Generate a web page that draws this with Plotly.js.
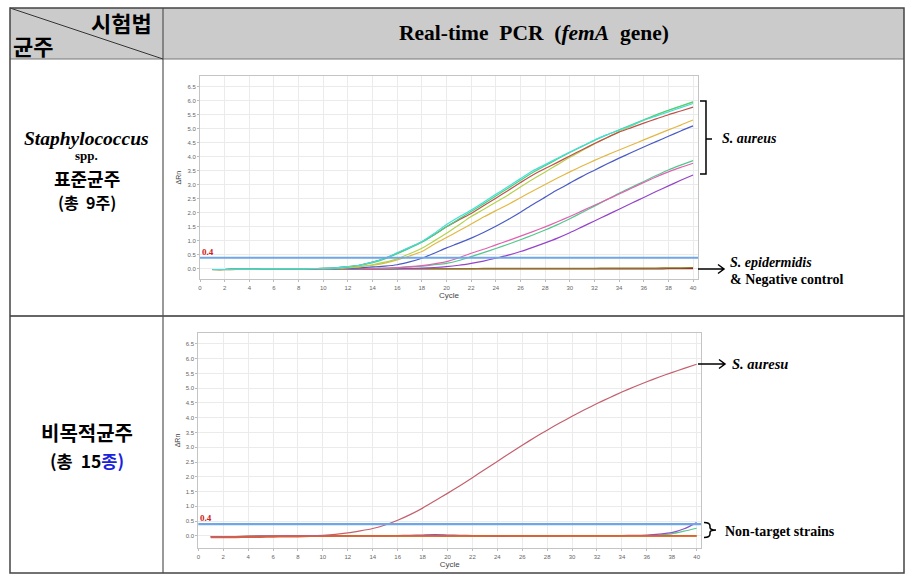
<!DOCTYPE html>
<html><head><meta charset="utf-8">
<script src="https://cdn.plot.ly/plotly-3.0.1.min.js"></script>
<style>html,body{margin:0;padding:0;background:#fff}#c{width:913px;height:587px}</style>
</head><body><div id="c"></div>
<script>
// ---------- DATA ----------
const cycles = [1,2,3,4,5,6,7,8,9,10,11,12,13,14,15,16,17,18,19,20,21,22,23,24,25,26,27,28,29,30,31,32,33,34,35,36,37,38,39,40];
const xTicks = [0,2,4,6,8,10,12,14,16,18,20,22,24,26,28,30,32,34,36,38,40];
const threshold = 0.4;

// Panel 1: Staphylococcus spp. reference strains
const saCyan   = [-0.02,-0.02,-0.01,-0.01,0,0,0,0,0.01,0.02,0.04,0.08,0.14,0.24,0.38,0.58,0.77,0.98,1.27,1.58,1.85,2.10,2.38,2.66,2.94,3.22,3.50,3.72,3.95,4.17,4.38,4.60,4.78,4.95,5.12,5.30,5.45,5.60,5.75,5.90];
const saGreen  = [-0.02,-0.02,-0.01,-0.01,0,0,0,0,0.01,0.02,0.03,0.07,0.13,0.22,0.36,0.54,0.74,0.95,1.22,1.50,1.78,2.05,2.32,2.60,2.88,3.16,3.44,3.68,3.92,4.15,4.37,4.58,4.78,4.96,5.14,5.32,5.50,5.66,5.81,5.96];
const saRed    = [-0.02,-0.02,-0.01,-0.01,0,0,0,0,0.01,0.02,0.04,0.08,0.14,0.24,0.38,0.56,0.76,0.97,1.22,1.50,1.75,1.98,2.25,2.52,2.80,3.08,3.35,3.58,3.80,4.03,4.25,4.47,4.68,4.88,5.04,5.20,5.35,5.50,5.63,5.77];
const saLime   = [-0.02,-0.02,-0.01,-0.01,0,0,0,0,0.01,0.01,0.02,0.05,0.09,0.15,0.24,0.36,0.54,0.74,1.00,1.27,1.57,1.87,2.12,2.38,2.64,2.92,3.20,3.46,3.72,3.98,4.22,4.46,4.68,4.90,5.10,5.30,5.48,5.65,5.80,5.95];
const saYellow = [-0.02,-0.02,-0.01,-0.01,0,0,0,0,0.01,0.01,0.02,0.04,0.08,0.13,0.21,0.32,0.46,0.62,0.88,1.12,1.36,1.60,1.85,2.08,2.30,2.54,2.78,3.01,3.24,3.46,3.67,3.87,4.06,4.24,4.42,4.60,4.78,4.96,5.13,5.31];
const saBlue   = [-0.02,-0.02,-0.01,-0.01,0,0,0,0,0,0.01,0.01,0.02,0.04,0.07,0.10,0.15,0.25,0.38,0.56,0.75,0.92,1.10,1.30,1.52,1.76,2.02,2.30,2.56,2.82,3.06,3.30,3.52,3.74,3.95,4.15,4.35,4.54,4.73,4.92,5.10];
const saPink   = [-0.02,-0.02,-0.01,-0.01,0,0,0,0,0,0,0.01,0.01,0.02,0.02,0.03,0.05,0.08,0.12,0.18,0.26,0.40,0.56,0.70,0.86,1.01,1.17,1.33,1.50,1.68,1.87,2.07,2.27,2.47,2.67,2.88,3.08,3.28,3.46,3.62,3.77];
const saTeal   = [-0.02,-0.02,-0.01,-0.01,0,0,0,0,0,0,0,0.01,0.01,0.02,0.02,0.04,0.07,0.10,0.15,0.20,0.30,0.44,0.58,0.73,0.88,1.04,1.21,1.39,1.58,1.79,2.01,2.24,2.47,2.70,2.91,3.12,3.33,3.53,3.70,3.86];
const saPurple = [-0.02,-0.02,-0.01,-0.01,0,0,0,0,0,0,0,0,0.01,0.01,0.01,0.01,0.02,0.03,0.05,0.08,0.13,0.20,0.28,0.38,0.49,0.62,0.77,0.93,1.10,1.29,1.50,1.71,1.92,2.13,2.34,2.55,2.76,2.96,3.16,3.35];
const epiOlive = [-0.03,-0.03,-0.02,-0.02,-0.01,-0.01,0,0,0,0,0,0,0,0,0,0.01,0.01,0.01,0.01,0.01,0.01,0.01,0.02,0.02,0.02,0.02,0.02,0.02,0.02,0.02,0.02,0.02,0.03,0.03,0.03,0.03,0.03,0.04,0.04,0.05];
const negCtrl  = [-0.02,-0.02,-0.02,-0.01,-0.01,-0.01,0,0,0,0,0,0,0,0,0,0,0,0,0,0,0,0,0,0,0,0,0,0,0,0,0,0,0,0,0,0,0,0.01,0.01,0.01];

// Panel 2: non-target strains
const ntAureus = [-0.03,-0.03,-0.02,-0.02,-0.01,0,0,0,0.01,0.02,0.05,0.10,0.17,0.25,0.37,0.53,0.72,0.94,1.19,1.44,1.70,1.97,2.25,2.52,2.80,3.07,3.33,3.58,3.82,4.05,4.27,4.48,4.68,4.87,5.05,5.22,5.38,5.53,5.67,5.81];
const ntOrange = [-0.05,-0.05,-0.05,-0.04,-0.04,-0.03,-0.02,-0.02,-0.01,-0.01,0,0,0,0,0,0,0,0,0,0,0,0,0,0,0,0,0,0,0,0,0,0,0,0,0,0,0,0,0,0];
const ntYellow = [-0.03,-0.03,-0.02,-0.02,-0.01,-0.01,0,0,0.01,0.01,0.01,0.01,0.01,0.01,0.01,0,0,0,0,0,0,0,0,0,0,0,0,0,0,0,0,0,0,0,0,0,0,0,0.01,0.01];
const ntPurple = [-0.03,-0.03,-0.02,-0.02,-0.01,-0.01,0,0,0,0,0,0,0,0,0,0.01,0.02,0.03,0.04,0.03,0.02,0.01,0,-0.01,0,0,0,0,0,0.01,0.01,0.01,0.01,0.01,0.02,0.03,0.06,0.11,0.24,0.45];
const ntGreen  = [-0.03,-0.03,-0.02,-0.02,-0.01,-0.01,0,0,0,0,0,0,0,0,0,0,0,0.01,0.01,0.01,0,0,0,0,0,0,0,0,0,0,0,0,0,0,0.01,0.01,0.03,0.07,0.16,0.26];
const ntBrown  = [-0.02,-0.02,-0.02,-0.01,-0.01,-0.01,0,0,0,0,0,0,0,0,0,0,0,0,0,-0.01,-0.01,-0.01,0,0,0,0,0,0,0,0,0,0,0,0,0,0,0,0,0,0];

// ---------- HELPERS ----------
const W = 913, H = 587;
const px = x => x / W;
const py = y => 1 - y / H;

function tr(y, color, ax, width) {
  return {x: cycles, y: y, type: 'scatter', mode: 'lines', xaxis: ax[0], yaxis: ax[1],
          line: {color: color, width: width || 1.2, shape: 'spline', smoothing: 0.6}, hoverinfo: 'skip', showlegend: false};
}
const A1 = ['x', 'y'], A2 = ['x2', 'y2'];

const traces = [
  tr(negCtrl, '#8b2a2a', A1), tr(epiOlive, '#8a7a1e', A1),
  tr(saPurple, '#9444c8', A1), tr(saTeal, '#52c88e', A1), tr(saPink, '#e062b0', A1),
  tr(saBlue, '#4a5cc4', A1), tr(saYellow, '#e2b845', A1), tr(saLime, '#b4d24e', A1),
  tr(saRed, '#c0504a', A1), tr(saGreen, '#4cd07a', A1), tr(saCyan, '#44dede', A1),
  tr(ntBrown, '#8b3a2a', A2), tr(ntYellow, '#d8c232', A2), tr(ntGreen, '#5cc88a', A2),
  tr(ntPurple, '#8a52c8', A2), tr(ntOrange, '#e0602a', A2, 1.8), tr(ntAureus, '#c4606e', A2)
];

const tickFont = {family: 'Arial, Liberation Sans, sans-serif', size: 6, color: '#666'};
function xAx(domain, anchor, range) {
  return {domain: domain, anchor: anchor, range: range, tickvals: xTicks, ticktext: xTicks.map(String),
          showgrid: true, gridcolor: '#ebebeb', gridwidth: 1, zeroline: false,
          showline: true, mirror: true, linecolor: '#c4c4c4', linewidth: 1,
          ticks: 'outside', ticklen: 2, tickcolor: '#bbb', tickfont: tickFont, automargin: false,
          title: {text: 'Cycle', font: {family: 'Arial, Liberation Sans, sans-serif', size: 8, color: '#444'}, standoff: 2}};
}
function yAx(domain, anchor, range) {
  return {domain: domain, anchor: anchor, range: range, dtick: 0.5, tick0: 0, tickformat: '.1f',
          showgrid: true, gridcolor: '#ebebeb', gridwidth: 1, zeroline: false,
          showline: true, mirror: true, linecolor: '#c4c4c4', linewidth: 1,
          ticks: 'outside', ticklen: 2, tickcolor: '#bbb', tickfont: tickFont, automargin: false,
          title: {text: 'ΔRn', font: {family: 'Arial, Liberation Sans, sans-serif', size: 7, color: '#444'}, standoff: 4}};
}

const K = 'Noto Sans CJK KR, sans-serif';
const T = 'Liberation Serif, Times New Roman, serif';
const NB = '\u00A0';

function ann(x, y, text, size, fam, xa, ya, color) {
  return {xref: 'paper', yref: 'paper', x: px(x), y: py(y), text: text, showarrow: false,
          xanchor: xa || 'center', yanchor: ya || 'middle', borderpad: 0,
          font: {family: fam, size: size, color: color || '#000'}};
}

const annotations = [
  ann(153, 22, '<b>시험법</b>', 22, K, 'right'),
  ann(12, 45, '<b>균주</b>', 22, K, 'left'),
  ann(534, 33, '<b>Real-time' + NB + NB + 'PCR' + NB + NB + '(<i>femA</i>' + NB + NB + 'gene)</b>', 21.5, T),
  ann(86.5, 139, '<b><i>Staphylococcus</i></b>', 19.5, T),
  ann(86.5, 155.5, '<b>spp.</b>', 13, T),
  ann(86.5, 178, '<b>표준균주</b>', 18, K),
  ann(86.5, 202, '<b>(총' + NB + NB + '9주)</b>', 16, K),
  ann(86.5, 432, '<b>비목적균주</b>', 20, K),
  ann(86.5, 460, '<b>(총' + NB + NB + '15<span style="color:#1a22dd">종)</span></b>', 17.5, K),
  ann(721, 139, '<b><i>S. aureus</i></b>', 14, T, 'left'),
  ann(729, 262, '<b><i>S. epidermidis</i></b>', 14, T, 'left'),
  ann(729, 280, '<b>&amp; Negative control</b>', 14, T, 'left'),
  ann(731, 364, '<b><i>S. auresu</i></b>', 14.5, T, 'left'),
  ann(724, 531, '<b>Non-target strains</b>', 14, T, 'left'),
  {xref: 'x', yref: 'y', x: 0, y: threshold, text: '<b>0.4</b>', showarrow: false, xanchor: 'left', yanchor: 'bottom',
   yshift: -1, font: {family: T, size: 9, color: '#cc2222'}},
  {xref: 'x2', yref: 'y2', x: 0, y: threshold, text: '<b>0.4</b>', showarrow: false, xanchor: 'left', yanchor: 'bottom',
   yshift: -1, font: {family: T, size: 9, color: '#cc2222'}}
];

function P(s) { // path in pixel coords -> paper
  return s.replace(/(-?\d+(?:\.\d+)?),(-?\d+(?:\.\d+)?)/g, (m, a, b) => px(+a).toFixed(5) + ',' + py(+b).toFixed(5));
}
const ln = (x0, y0, x1, y1, c, w) => ({type: 'line', xref: 'paper', yref: 'paper', x0: px(x0), y0: py(y0), x1: px(x1), y1: py(y1), line: {color: c, width: w}});
const path = (d, w) => ({type: 'path', xref: 'paper', yref: 'paper', path: P(d), line: {color: '#000', width: w || 1.5}});

const shapes = [
  {type: 'rect', xref: 'paper', yref: 'paper', x0: px(10), x1: px(904), y0: py(59), y1: py(8), fillcolor: '#cbcbcb', line: {width: 0}, layer: 'below'},
  ln(10, 59, 904, 59, '#777', 1),
  ln(10, 316, 904, 316, '#333', 1.5),
  ln(163, 8, 163, 573, '#555', 1.2),
  ln(10, 8, 163, 59, '#333', 1),
  {type: 'rect', xref: 'paper', yref: 'paper', x0: px(10), x1: px(904), y0: py(573), y1: py(8), line: {color: '#444', width: 1.5}},
  {type: 'line', xref: 'x domain', yref: 'y', x0: 0, x1: 1, y0: threshold, y1: threshold, line: {color: '#6fa6e6', width: 2}},
  {type: 'line', xref: 'x2 domain', yref: 'y2', x0: 0, x1: 1, y0: threshold, y1: threshold, line: {color: '#6fa6e6', width: 2.2}},
  path('M700,101 L706,101 L706,174 L700,174 M706,139 L712,139'),
  path('M698,269 L724,269 M718,264.5 L724,269 L718,273.5'),
  path('M698,364 L725,364 M719,359.5 L725,364 L719,368.5'),
  path('M704,522.5 Q710,522.5 710,526 L710,527.5 Q710,530 716,530 Q710,530 710,532.5 L710,534 Q710,537.5 704,537.5')
];

const layout = {
  width: W, height: H, margin: {l: 0, r: 0, t: 0, b: 0},
  paper_bgcolor: '#fff', plot_bgcolor: '#fff', showlegend: false,
  xaxis: xAx([px(200), px(698)], 'y', [0, 40.4]),
  yaxis: yAx([py(279.3), py(76)], 'x', [-0.37, 6.88]),
  xaxis2: xAx([px(198.3), px(701)], 'y2', [0, 40.35]),
  yaxis2: yAx([py(548.3), py(332.7)], 'x2', [-0.42, 6.88]),
  annotations: annotations, shapes: shapes
};

Plotly.newPlot('c', traces, layout, {staticPlot: true, displayModeBar: false});
</script></body></html>
